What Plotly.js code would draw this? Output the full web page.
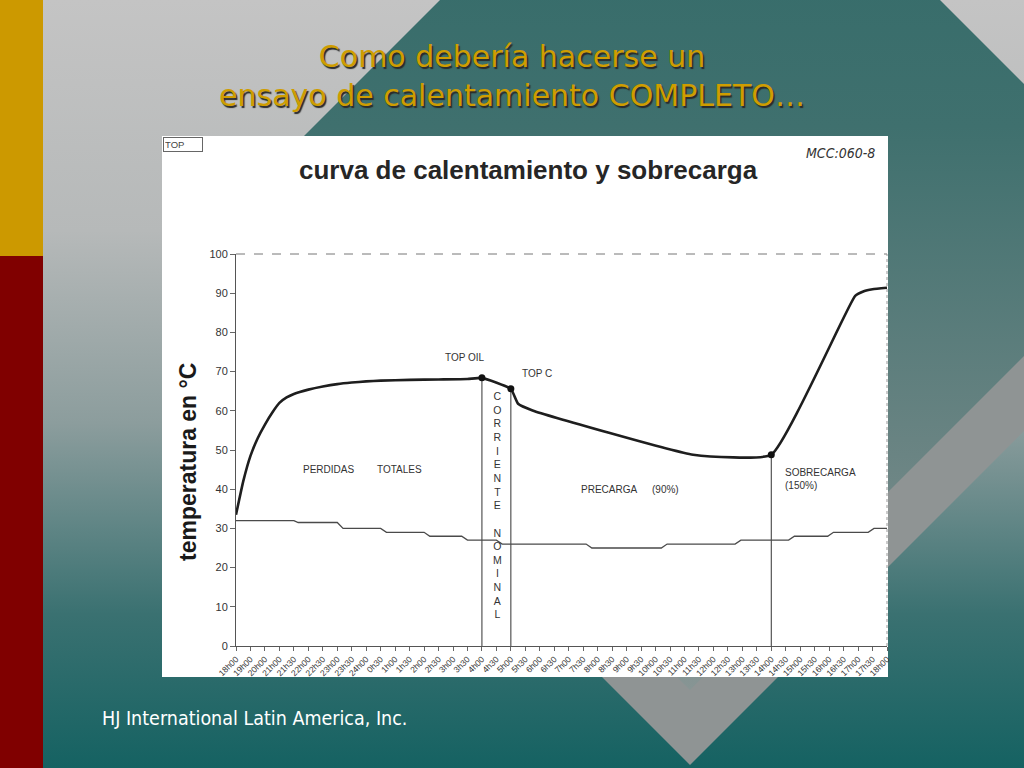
<!DOCTYPE html>
<html>
<head>
<meta charset="utf-8">
<script src="https://cdn.plot.ly/plotly-3.0.1.min.js"></script>
<style>
  html, body { margin: 0; padding: 0; }
  #wrap { position: relative; width: 1024px; height: 768px; overflow: hidden; }
  #bg { position: absolute; left: 0; top: 0; }
  #chart { position: absolute; left: 0; top: 0; width: 1024px; height: 768px; }
</style>
</head>
<body>
<div id="wrap">
<svg id="bg" width="1024" height="768" viewBox="0 0 1024 768">
  <defs>
    <linearGradient id="gBase" x1="0" y1="0" x2="0" y2="1">
      <stop offset="0" stop-color="#c4c4c4"/>
      <stop offset="0.30" stop-color="#b6b9b9"/>
      <stop offset="0.55" stop-color="#8c9d9d"/>
      <stop offset="0.80" stop-color="#3a7171"/>
      <stop offset="1" stop-color="#156262"/>
    </linearGradient>
    <linearGradient id="gTeal" x1="0" y1="0" x2="0" y2="1">
      <stop offset="0" stop-color="#2c6866"/>
      <stop offset="0.40" stop-color="#3f706e"/>
      <stop offset="0.75" stop-color="#6a8483"/>
      <stop offset="1" stop-color="#879594"/>
    </linearGradient>
  </defs>
  <rect x="0" y="0" width="1024" height="768" fill="url(#gBase)"/>
  <polygon points="690,765 1120,335 690,-95 260,335" fill="#8f9494"/>
  <polygon points="690,-250 1160,220 690,690 220,220" fill="url(#gTeal)"/>
  <rect x="0" y="0" width="43" height="256" fill="#cc9900"/>
  <rect x="0" y="256" width="43" height="512" fill="#800000"/>
</svg>
<div id="chart"></div>
</div>
<script>
// ---- data ----
const tickLabels = ['18h00','19h00','20h00','21h00','21h30','22h00','22h30','23h00','23h30','24h00',
  '0h30','1h00','1h30','2h00','2h30','3h00','3h30','4h00','4h30','5h00','5h30','6h00','6h30','7h00',
  '7h30','8h00','8h30','9h00','9h30','10h00','10h30','11h00','11h30','12h00','12h30','13h00','13h30',
  '14h00','14h30','15h00','15h30','16h00','16h30','17h00','17h30','18h00'];

// top temperature curve (x in tick positions)
const topX = [0, 0.5, 1, 1.5, 2, 2.5, 3, 3.5, 4, 5, 6, 7, 8, 9, 10, 12, 14, 16, 17, 19, 19.5, 20.5, 31.6, 37, 42.8, 43.4, 44, 45];
const topY = [33.5, 42, 48.5, 53, 56.5, 59.5, 62, 63.4, 64.3, 65.4, 66.2, 66.8, 67.2, 67.5, 67.7, 67.9, 68.0, 68.1, 68.4, 65.6, 61.8, 60.1, 48.8, 48.8, 89.3, 90.5, 91.0, 91.4];

// ambient temperature (steps)
const ambX = [0, 4.0, 4.3, 7.0, 7.4, 10.0, 10.4, 13.0, 13.4, 15.6, 16.0, 18.0, 18.4, 24.2, 24.6, 29.4, 29.8, 34.5, 34.9, 38.2, 38.6, 40.9, 41.3, 43.7, 44.1, 45];
const ambY = [32, 32, 31.5, 31.5, 30, 30, 29, 29, 28, 28, 27, 27, 26, 26, 25, 25, 26, 26, 27, 27, 28, 28, 29, 29, 30, 30];

// marked events: TOP OIL, TOP C, start of overload
const eventX = [17, 19, 37];
const eventY = [68.4, 65.6, 48.8];

const yTicks = [0, 10, 20, 30, 40, 50, 60, 70, 80, 90, 100];

// ---- build traces ----
const vx = [], vy = [];
eventX.forEach((x, i) => { vx.push(x, x, null); vy.push(0, eventY[i], null); });

const traces = [
  { x: vx, y: vy, mode: 'lines', line: { color: '#333', width: 1 }, hoverinfo: 'skip', showlegend: false },
  { x: ambX, y: ambY, mode: 'lines', line: { color: '#4a4a4a', width: 1.3 }, showlegend: false },
  { x: topX, y: topY, mode: 'lines', line: { color: '#1e1e1e', width: 2.6, shape: 'spline', smoothing: 0.4 }, showlegend: false },
  { x: eventX, y: eventY, mode: 'markers', marker: { color: '#111', size: 7 }, showlegend: false }
];

// helpers to convert pixel positions on the slide into paper coords
const L = 236, R = 887, T = 254, B = 646;
const px = v => (v - L) / (R - L);
const py = v => (B - v) / (B - T);

const fam = 'Liberation Sans, Arial, sans-serif';
const txt = { family: fam, size: 10, color: '#333' };

const annotations = [
  { text: 'TOP OIL', x: 15.8, y: 73.5, showarrow: false, font: txt },
  { text: 'TOP C', x: 20.8, y: 69.6, showarrow: false, font: txt },
  { text: 'PERDIDAS', x: 6.4, y: 44.9, showarrow: false, font: txt },
  { text: 'TOTALES', x: 11.3, y: 44.9, showarrow: false, font: txt },
  { text: 'PRECARGA', x: 25.8, y: 40.0, showarrow: false, font: txt },
  { text: '(90%)', x: 29.7, y: 40.0, showarrow: false, font: txt },
  { text: 'SOBRECARGA<br>(150%)', x: 37.8, y: 42.7, xanchor: 'left', yanchor: 'middle', align: 'left', showarrow: false, font: txt },
  { text: 'C<br>O<br>R<br>R<br>I<br>E<br>N<br>T<br>E<br> <br>N<br>O<br>M<br>I<br>N<br>A<br>L', x: 18.05, y: 36.0,
    xanchor: 'center', yanchor: 'middle', showarrow: false, align: 'center', font: { family: fam, size: 10.5, color: '#333' } },
  { text: '<b>tiempo en horas</b>', x: 22.4, y: -1.4, xanchor: 'center', yanchor: 'middle', showarrow: false,
    font: { family: fam, size: 11, color: '#222' } },
  { text: '<b>temperatura en °C</b>', xref: 'paper', yref: 'paper', x: px(188), y: py(462), textangle: -90,
    xanchor: 'center', yanchor: 'middle', showarrow: false, font: { family: fam, size: 23, color: '#1a1a1a' } },
  { text: '<b>curva de calentamiento y sobrecarga</b>', xref: 'paper', yref: 'paper', x: px(528), y: py(170),
    xanchor: 'center', yanchor: 'middle', showarrow: false, font: { family: fam, size: 26, color: '#262626' } },
  { text: '<i>MCC:060-8</i>', xref: 'paper', yref: 'paper', x: px(840), y: py(153),
    xanchor: 'center', yanchor: 'middle', showarrow: false, font: { family: 'DejaVu Sans Condensed, sans-serif', size: 14, color: '#333' } },
  { text: 'TOP', xref: 'paper', yref: 'paper', x: px(163), y: py(137), xanchor: 'left', yanchor: 'top',
    width: 36, height: 11, align: 'left',
    showarrow: false, bordercolor: '#666', borderwidth: 1, borderpad: 1, bgcolor: '#fff',
    font: { family: fam, size: 9.5, color: '#444' } },
  { text: 'HJ International Latin America, Inc.', xref: 'paper', yref: 'paper', x: px(100), y: py(718),
    xanchor: 'left', yanchor: 'middle', showarrow: false, font: { family: 'DejaVu Sans Condensed, sans-serif', size: 19.5, color: '#ffffff' } }
];

const shapes = [
  { type: 'rect', xref: 'paper', yref: 'paper', x0: px(162), x1: px(888), y0: py(677), y1: py(136),
    fillcolor: '#ffffff', line: { width: 0 }, layer: 'below' },
  { type: 'line', xref: 'paper', yref: 'paper', x0: 0, x1: 1, y0: 1, y1: 1,
    line: { color: '#777', width: 1, dash: 'dash' } },
  { type: 'line', xref: 'paper', yref: 'paper', x0: 1, x1: 1, y0: 0, y1: 1,
    line: { color: '#999', width: 1, dash: 'dot' } }
];

const layout = {
  width: 1024, height: 768,
  margin: { l: L, r: 1024 - R, t: T, b: 768 - B, pad: 0 },
  paper_bgcolor: 'rgba(0,0,0,0)',
  plot_bgcolor: '#ffffff',
  showlegend: false,
  title: {
    text: 'Como debería hacerse un<br>ensayo de calentamiento COMPLETO…',
    x: 0.5, xref: 'container', xanchor: 'center',
    y: 1 - 67 / 768, yref: 'container', yanchor: 'middle',
    font: { family: 'DejaVu Sans, sans-serif', size: 30, color: '#cf9d00', shadow: '1.5px 1.5px 1px #2a2a2a' }
  },
  xaxis: {
    range: [0, 45], showgrid: false, zeroline: false,
    showline: true, linecolor: '#555', linewidth: 1,
    tickmode: 'array', tickvals: tickLabels.map((_, i) => i), ticktext: tickLabels,
    ticks: 'outside', ticklen: 4, tickcolor: '#666', tickangle: -45,
    tickfont: { family: fam, size: 8.5, color: '#333' }
  },
  yaxis: {
    range: [0, 100], showgrid: false, zeroline: false,
    showline: true, linecolor: '#555', linewidth: 1,
    tickmode: 'array', tickvals: yTicks,
    ticks: 'outside', ticklen: 5, tickcolor: '#666',
    tickfont: { family: fam, size: 11, color: '#333' }
  },
  shapes: shapes,
  annotations: annotations
};

Plotly.newPlot('chart', traces, layout, { staticPlot: true, displayModeBar: false });
</script>
</body>
</html>
